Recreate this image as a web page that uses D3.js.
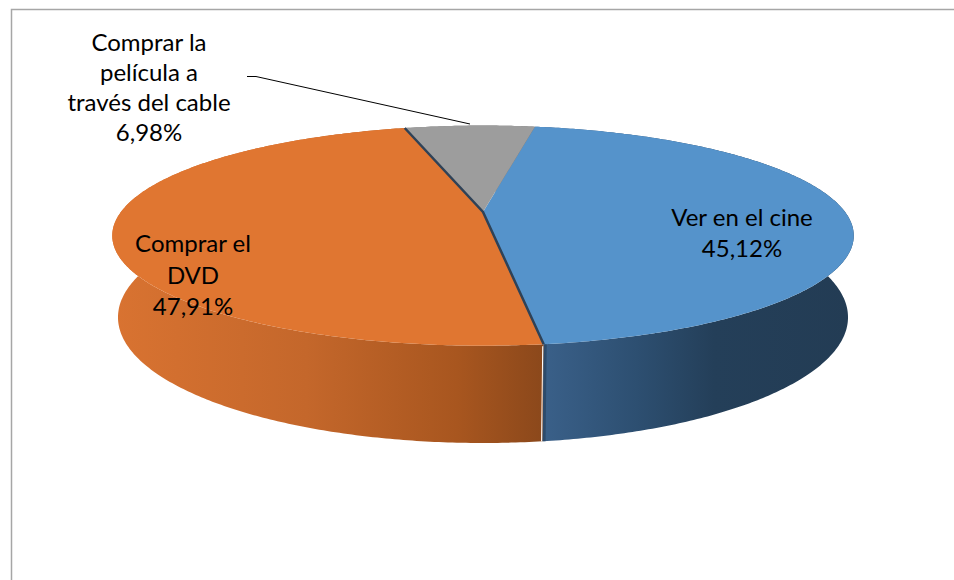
<!DOCTYPE html>
<html>
<head>
<meta charset="utf-8">
<script src="https://cdn.jsdelivr.net/npm/d3@7"></script>
<style>
    body { margin: 0; background: #fff; }
    svg { display: block; }
</style>
</head>
<body>
<div id="pie_div"></div>
<script>
// data
var categorias = ["Ver en el cine", "Comprar el DVD", "Comprar la película a través del cable"];
var valores = [45.12, 47.91, 6.98];
var etiquetas = [["Ver en el cine"], ["Comprar el", "DVD"], ["Comprar la", "película a", "través del cable"]];
var colores = ["#5593cb", "#e07631", "#9d9d9d"];

var pie_viz = (function () {
    var width = 954;
    var height = 580;

    // 3d view settings (tilted camera looking at the pie)
    var cx = 483, cy = 212;
    var k = 1615;
    var dist = 4.46;
    var sa = 0.29, ca = Math.sqrt(1 - sa * sa);
    var thick = 0.2305;
    var rot = 10 * Math.PI / 180;

    var svg = d3.select("#pie_div")
	.append("svg")
	.attr("width", width)
	.attr("height", height);

    // frame
    svg.append("path")
	.attr("d", "M11.5," + (height + 5) + "V9.5H" + (width + 5))
	.attr("fill", "none")
	.attr("stroke", "#a6a6a6")
	.attr("stroke-width", 1.5);

    function proj(phi, r, h) {
	var x = r * Math.sin(phi);
	var z = -r * Math.cos(phi);
	var depth = dist - h * sa - z * ca;
	return [cx + k * x / depth, cy - k * (h * ca - z * sa) / depth];
    }

    function arcPts(a0, a1, r, h) {
	var n = Math.max(2, Math.ceil(Math.abs(a1 - a0) / 0.01));
	return d3.range(n + 1).map(i => proj(a0 + (a1 - a0) * i / n, r, h));
    }

    var line = d3.line();

    var slices = d3.pie()
	.sort(null)
	.startAngle(rot)
	.endAngle(rot + 2 * Math.PI)(valores);

    var defs = svg.append("defs");

    var wallStops = [
	[["0", "#3a6089"], ["0.3", "#2d4f71"], ["0.55", "#243f59"], ["1", "#233c54"]],
	[["0", "#d97331"], ["0.45", "#c4672b"], ["0.8", "#a8561f"], ["1", "#8b481b"]],
	[["0", "#8a8a8a"], ["1", "#6e6e6e"]]
    ];

    slices.forEach(function (s, i) {
	var top = arcPts(s.startAngle, s.endAngle, 1, 0);
	var xs = top.map(p => p[0]);
	var g = defs.append("linearGradient")
	    .attr("id", "wall" + i)
	    .attr("gradientUnits", "userSpaceOnUse")
	    .attr("x1", d3.min(xs)).attr("x2", d3.max(xs))
	    .attr("y1", 0).attr("y2", 0);
	var stops = wallStops[i];
	if (i == 0) {
	    // blue wall: light side is the left (start of visible wall)
	    g.attr("x1", proj(s.endAngle, 1, 0)[0]).attr("x2", d3.max(xs));
	}
	if (i == 1) {
	    g.attr("x1", d3.min(xs)).attr("x2", proj(s.startAngle, 1, 0)[0]);
	}
	g.selectAll("stop")
	    .data(stops)
	    .enter()
	    .append("stop")
	    .attr("offset", d => d[0])
	    .attr("stop-color", d => d[1]);
    });

    // outer walls
    svg.selectAll(".wall")
	.data(slices)
	.enter()
	.append("path")
	.attr("class", "wall")
	.attr("d", function (s) {
	    var top = arcPts(s.startAngle, s.endAngle, 1, 0);
	    var bot = arcPts(s.endAngle, s.startAngle, 1, -thick);
	    return line(top.concat(bot)) + "Z";
	})
	.attr("fill", (s, i) => "url(#wall" + i + ")");

    // top faces
    svg.selectAll(".top")
	.data(slices)
	.enter()
	.append("path")
	.attr("class", "top")
	.attr("d", function (s) {
	    var pts = [proj(0, 0, 0)].concat(arcPts(s.startAngle, s.endAngle, 1, 0));
	    return line(pts) + "Z";
	})
	.attr("fill", (s, i) => colores[i]);

    // dark edges of the cut faces
    var aBlueEnd = slices[0].endAngle;
    var aGrayStart = slices[2].startAngle;
    svg.append("path")
	.attr("d", line([proj(aGrayStart, 1, 0), proj(0, 0, 0), proj(aBlueEnd, 1, 0)]))
	.attr("fill", "none")
	.attr("stroke", "#2f4257")
	.attr("stroke-width", 2.5);

    var e0 = proj(aBlueEnd, 1, 0), e1 = proj(aBlueEnd, 1, -thick);
    svg.append("path")
	.attr("d", line([[e0[0] + 1.5, e0[1]], [e1[0] + 1.5, e1[1]]]))
	.attr("stroke", "#2d4b6b")
	.attr("stroke-width", 3);
    svg.append("path")
	.attr("d", line([[e0[0] - 1, e0[1] + 2], [e1[0] - 1, e1[1]]]))
	.attr("stroke", "#ffffff")
	.attr("stroke-width", 1);

    // leader line for the small slice
    svg.append("path")
	.attr("d", line([[247, 76.5], [256, 76.5], [470, 124]]))
	.attr("fill", "none")
	.attr("stroke", "#000")
	.attr("stroke-width", 1);

    // labels
    var labelPos = [[742, 226, 31], [193, 252, 31.5], [149, 50.5, 30]];
    var fmt = d3.format(".2f");

    labelPos.forEach(function (p, i) {
	var lines = etiquetas[i].concat([fmt(valores[i]).replace(".", ",") + "%"]);
	svg.append("g")
	    .selectAll("text")
	    .data(lines)
	    .enter()
	    .append("text")
	    .attr("x", p[0])
	    .attr("y", (d, j) => p[1] + j * p[2])
	    .attr("text-anchor", "middle")
	    .attr("font-family", "Lato, 'Open Sans', sans-serif")
	    .attr("font-size", 24)
	    .attr("fill", "#000")
	    .text(d => d);
    });
})();
</script>
</body>
</html>
